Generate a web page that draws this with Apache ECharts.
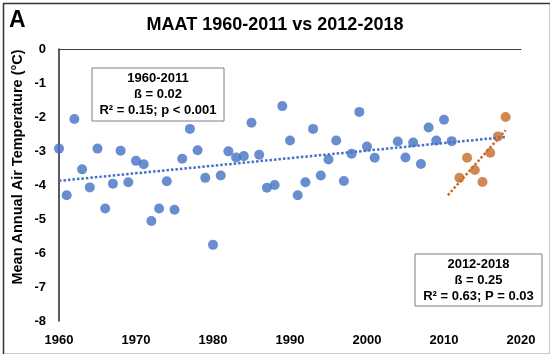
<!DOCTYPE html>
<html>
<head>
<meta charset="utf-8">
<script src="https://cdn.jsdelivr.net/npm/echarts@6/dist/echarts.min.js"></script>
<style>
  html, body { margin: 0; padding: 0; background: #fff; }
  #chart { width: 550px; height: 354px; }
</style>
</head>
<body>
<div id="chart"></div>
<script>
// data (MAAT, °C)
var blueYears = [1960, 1961, 1962, 1963, 1964, 1965, 1966, 1967, 1968, 1969,
  1970, 1971, 1972, 1973, 1974, 1975, 1976, 1977, 1978, 1979,
  1980, 1981, 1982, 1983, 1984, 1985, 1986, 1987, 1988, 1989,
  1990, 1991, 1992, 1993, 1994, 1995, 1996, 1997, 1998, 1999,
  2000, 2001, 2004, 2005, 2006, 2007, 2008, 2009, 2010, 2011];
var blueTemp = [-2.93, -4.30, -2.06, -3.54, -4.07, -2.93, -4.69, -3.96, -2.99, -3.92,
  -3.29, -3.39, -5.06, -4.69, -3.89, -4.73, -3.23, -2.35, -2.98, -3.79,
  -5.76, -3.72, -3.01, -3.19, -3.15, -2.17, -3.11, -4.08, -4.00, -1.68,
  -2.69, -4.30, -3.92, -2.35, -3.72, -3.25, -2.69, -3.88, -3.08, -1.85,
  -2.87, -3.20, -2.72, -3.19, -2.75, -3.38, -2.31, -2.69, -2.08, -2.71];

var orangeYears = [2012, 2013, 2014, 2015, 2016, 2017, 2018];
var orangeTemp = [-3.79, -3.20, -3.56, -3.91, -3.05, -2.57, -2.00];

// span of each trendline (excel forecast forward / backward)
var blueFitRange = [1960, 2018];
var orangeFitRange = [2010.5, 2018];

var xTicks = [1960, 1970, 1980, 1990, 2000, 2010, 2020];
var yTicks = [0, -1, -2, -3, -4, -5, -6, -7, -8];

var box1Lines = ['1960-2011', 'ß = 0.02', 'R² = 0.15; p < 0.001'];
var box2Lines = ['2012-2018', 'ß = 0.25', 'R² = 0.63; P = 0.03'];

var BLUE = '#4472C4';
var ORANGE = '#C86A28';
var FONT = 'Arial, "Liberation Sans", sans-serif';

// least squares line, returned as two end points
function fitLine(xs, ys, range) {
  var n = xs.length, mx = 0, my = 0;
  for (var i = 0; i < n; i++) { mx += xs[i]; my += ys[i]; }
  mx /= n; my /= n;
  var sxy = 0, sxx = 0;
  for (var j = 0; j < n; j++) {
    sxy += (xs[j] - mx) * (ys[j] - my);
    sxx += (xs[j] - mx) * (xs[j] - mx);
  }
  var b = sxy / sxx, a = my - b * mx;
  return range.map(function (x) { return [x, a + b * x]; });
}

function pairs(xs, ys) {
  return xs.map(function (x, i) { return [x, ys[i]]; });
}

var myChart = echarts.init(document.getElementById('chart'));

var option = {
  animation: false,
  backgroundColor: '#fff',
  title: {
    text: 'MAAT 1960-2011 vs 2012-2018',
    left: 'center',
    top: 11,
    textStyle: { fontFamily: FONT, fontSize: 18, fontWeight: 'bold', color: '#000' }
  },
  grid: {
    left: 59, right: 29, top: 49, bottom: 33,
    containLabel: false,
    outerBoundsMode: 'none'
  },
  xAxis: [
    {
      type: 'value',
      position: 'bottom',
      min: xTicks[0],
      max: xTicks[xTicks.length - 1],
      interval: 10,
      axisLine: { show: false },
      axisTick: { show: false },
      splitLine: { show: false },
      axisLabel: {
        margin: 13,
        fontFamily: FONT, fontSize: 13, fontWeight: 'bold', color: '#000',
        formatter: function (v) { return xTicks.indexOf(v) >= 0 ? String(v) : ''; }
      }
    },
    {
      // excel draws the category axis line where y = 0 (top)
      type: 'value',
      position: 'top',
      min: xTicks[0],
      max: xTicks[xTicks.length - 1],
      axisLine: { show: true, onZero: false, lineStyle: { color: '#404040', width: 1 } },
      axisTick: { show: false },
      axisLabel: { show: false },
      splitLine: { show: false }
    }
  ],
  yAxis: {
    type: 'value',
    min: yTicks[yTicks.length - 1],
    max: yTicks[0],
    interval: 1,
    axisLine: { show: true, onZero: false, lineStyle: { color: '#262626', width: 1.5 } },
    axisTick: { show: false },
    splitLine: { show: false },
    axisLabel: {
      margin: 13,
      fontFamily: FONT, fontSize: 13, fontWeight: 'bold', color: '#000'
    }
  },
  graphic: [
    {
      type: 'rect', left: 1, top: 1, silent: true,
      shape: { width: 547, height: 351 },
      style: { fill: null, stroke: '#333', lineWidth: 1.5 }
    },
    {
      type: 'text', x: 9, y: 9,
      style: { text: 'A', font: 'bold 23px ' + FONT, fill: '#000' }
    },
    {
      type: 'text', x: 18, y: 167, rotation: Math.PI / 2,
      style: {
        text: 'Mean Annual Air Temperature (°C)',
        font: 'bold 14.5px ' + FONT, fill: '#000',
        textAlign: 'center', textVerticalAlign: 'middle'
      }
    },
    {
      type: 'rect', x: 92, y: 68, z: 10,
      shape: { width: 132, height: 53 },
      style: { fill: '#fff', stroke: '#7f7f7f', lineWidth: 1 }
    },
    {
      type: 'text', x: 158, y: 70, z: 11,
      style: {
        text: box1Lines.join('\n'),
        font: 'bold 13px ' + FONT, fill: '#000',
        textAlign: 'center', lineHeight: 16
      }
    },
    {
      type: 'rect', x: 415, y: 254, z: 10,
      shape: { width: 127, height: 52 },
      style: { fill: '#fff', stroke: '#7f7f7f', lineWidth: 1 }
    },
    {
      type: 'text', x: 478.5, y: 256, z: 11,
      style: {
        text: box2Lines.join('\n'),
        font: 'bold 13px ' + FONT, fill: '#000',
        textAlign: 'center', lineHeight: 16
      }
    }
  ],
  series: [
    {
      name: '1960-2011',
      type: 'scatter',
      symbolSize: 10,
      itemStyle: { color: BLUE },
      data: pairs(blueYears, blueTemp)
    },
    {
      name: '2012-2018',
      type: 'scatter',
      symbolSize: 10,
      itemStyle: { color: ORANGE },
      data: pairs(orangeYears, orangeTemp)
    },
    {
      name: 'trend 1960-2011',
      type: 'line',
      showSymbol: false,
      z: 3,
      lineStyle: { color: BLUE, width: 2.5, type: [2.5, 2] },
      data: fitLine(blueYears, blueTemp, blueFitRange)
    },
    {
      name: 'trend 2012-2018',
      type: 'line',
      showSymbol: false,
      z: 3,
      lineStyle: { color: ORANGE, width: 2.5, type: [2.5, 2] },
      data: fitLine(orangeYears, orangeTemp, orangeFitRange)
    }
  ]
};

myChart.setOption(option);
</script>
</body>
</html>
